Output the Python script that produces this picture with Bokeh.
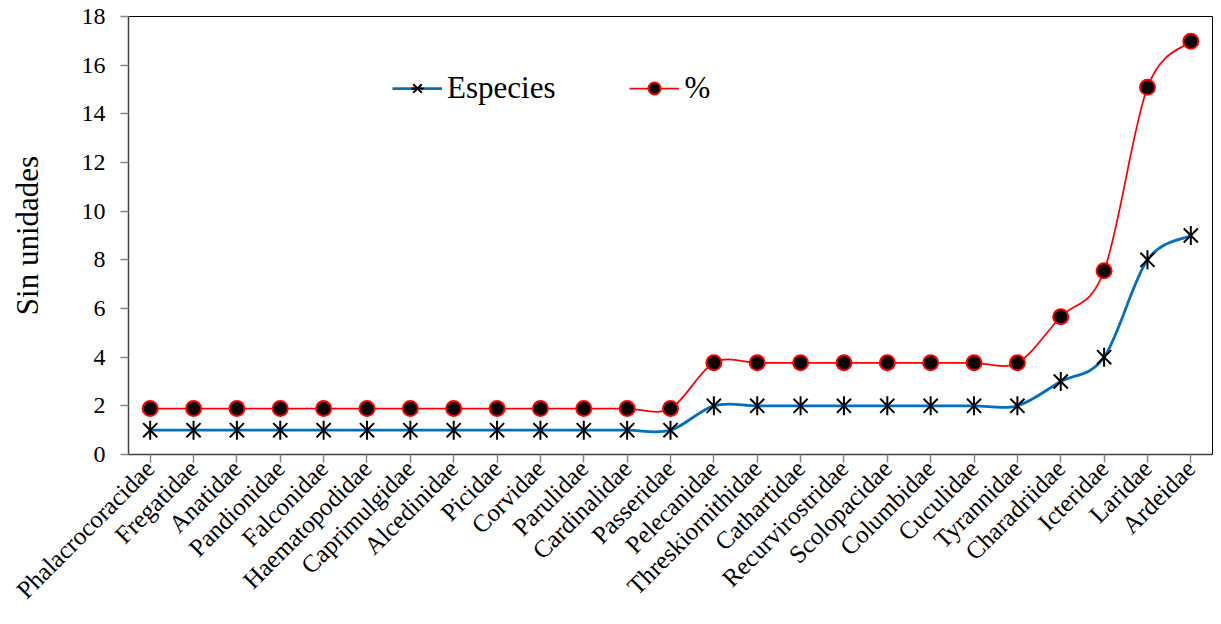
import math
from bokeh.plotting import figure
from bokeh.models import FixedTicker, Legend, LegendItem, ColumnDataSource
from bokeh.embed import file_html
from bokeh.resources import INLINE

families = ["Phalacrocoracidae", "Fregatidae", "Anatidae", "Pandionidae", "Falconidae",
            "Haematopodidae", "Caprimulgidae", "Alcedinidae", "Picidae", "Corvidae",
            "Parulidae", "Cardinalidae", "Passeridae", "Pelecanidae", "Threskiornithidae",
            "Cathartidae", "Recurvirostridae", "Scolopacidae", "Columbidae", "Cuculidae",
            "Tyrannidae", "Charadriidae", "Icteridae", "Laridae", "Ardeidae"]
especies = [1, 1, 1, 1, 1, 1, 1, 1, 1, 1, 1, 1, 1, 2, 2, 2, 2, 2, 2, 2, 2, 3, 4, 8, 9]
porcentaje = [1.89, 1.89, 1.89, 1.89, 1.89, 1.89, 1.89, 1.89, 1.89, 1.89, 1.89, 1.89, 1.89,
              3.77, 3.77, 3.77, 3.77, 3.77, 3.77, 3.77, 3.77, 5.66, 7.55, 15.09, 16.98]
y_ticks = [0, 2, 4, 6, 8, 10, 12, 14, 16, 18]

FONT = "Liberation Serif"
xs = list(range(len(families)))


def spline_source(ys):
    n = len(ys)
    d = dict(x0=[], y0=[], x1=[], y1=[], cx0=[], cy0=[], cx1=[], cy1=[])
    for i in range(n - 1):
        pm = i - 1 if i > 0 else i
        pp = i + 2 if i + 2 < n else i + 1
        d["x0"].append(xs[i]); d["y0"].append(ys[i])
        d["x1"].append(xs[i + 1]); d["y1"].append(ys[i + 1])
        d["cx0"].append(xs[i] + (xs[i + 1] - xs[pm]) / 6)
        d["cy0"].append(ys[i] + (ys[i + 1] - ys[pm]) / 6)
        d["cx1"].append(xs[i + 1] - (xs[pp] - xs[i]) / 6)
        d["cy1"].append(ys[i + 1] - (ys[pp] - ys[i]) / 6)
    return ColumnDataSource(d)


p = figure(width=1213, height=616, output_backend="svg", toolbar_location=None,
           x_range=(-0.5, len(families) - 0.5), y_range=(0, 18),
           min_border_left=128, min_border_right=1, min_border_top=16, min_border_bottom=161)
p.xgrid.visible = False
p.ygrid.visible = False
p.outline_line_color = "black"
p.outline_line_width = 1

b1 = p.bezier(x0="x0", y0="y0", x1="x1", y1="y1", cx0="cx0", cy0="cy0", cx1="cx1", cy1="cy1",
              source=spline_source(especies), line_color="#0070C0", line_width=2.75)
s1a = p.scatter(xs, especies, marker="x", size=20, line_color="black", line_width=2)
s1b = p.scatter(xs, especies, marker="dash", angle=math.pi / 2, size=19,
                line_color="black", line_width=2)
b2 = p.bezier(x0="x0", y0="y0", x1="x1", y1="y1", cx0="cx0", cy0="cy0", cx1="cx1", cy1="cy1",
              source=spline_source(porcentaje), line_color="#FF0000", line_width=1.75)
s2 = p.scatter(xs, porcentaje, marker="circle", size=15, fill_color="black",
               line_color="#FF0000", line_width=2)

legend = Legend(items=[LegendItem(label="Especies", renderers=[b1, s1a, s1b]),
                       LegendItem(label="%", renderers=[b2, s2])],
                orientation="horizontal", location=(264, 348),
                label_text_font=FONT, label_text_font_size="31px", label_text_color="black",
                glyph_width=50, glyph_height=30, spacing=74, padding=0, margin=0,
                label_standoff=5, border_line_color=None, background_fill_alpha=0)
p.add_layout(legend)

p.xaxis.ticker = FixedTicker(ticks=xs)
p.xaxis.major_label_overrides = {i: f for i, f in enumerate(families)}
p.xaxis.major_label_orientation = math.pi / 4
p.xaxis.major_label_text_font = FONT
p.xaxis.major_label_text_font_size = "25px"
p.xaxis.major_label_standoff = 2
p.xaxis.major_label_text_color = "black"
p.xaxis.major_tick_in = 0
p.xaxis.major_tick_out = 8
p.xaxis.minor_tick_line_color = None
p.xaxis.major_tick_line_color = "#868686"
p.xaxis.major_tick_line_width = 1.5
p.xaxis.axis_line_color = "#404040"
p.xaxis.axis_line_width = 1.5

p.yaxis.ticker = FixedTicker(ticks=y_ticks)
p.yaxis.major_label_text_font = FONT
p.yaxis.major_label_text_font_size = "24px"
p.yaxis.major_label_text_color = "black"
p.yaxis.major_label_standoff = 15
p.yaxis.major_tick_in = 0
p.yaxis.major_tick_out = 8
p.yaxis.minor_tick_line_color = None
p.yaxis.major_tick_line_color = "#868686"
p.yaxis.major_tick_line_width = 1.5
p.yaxis.axis_line_color = "#404040"
p.yaxis.axis_line_width = 1.5
p.yaxis.axis_label = "Sin unidades"
p.yaxis.axis_label_text_font = FONT
p.yaxis.axis_label_text_font_size = "31px"
p.yaxis.axis_label_text_font_style = "normal"
p.yaxis.axis_label_text_color = "black"
p.yaxis.axis_label_standoff = 34

open("out.html", "w").write(file_html(p, INLINE))
